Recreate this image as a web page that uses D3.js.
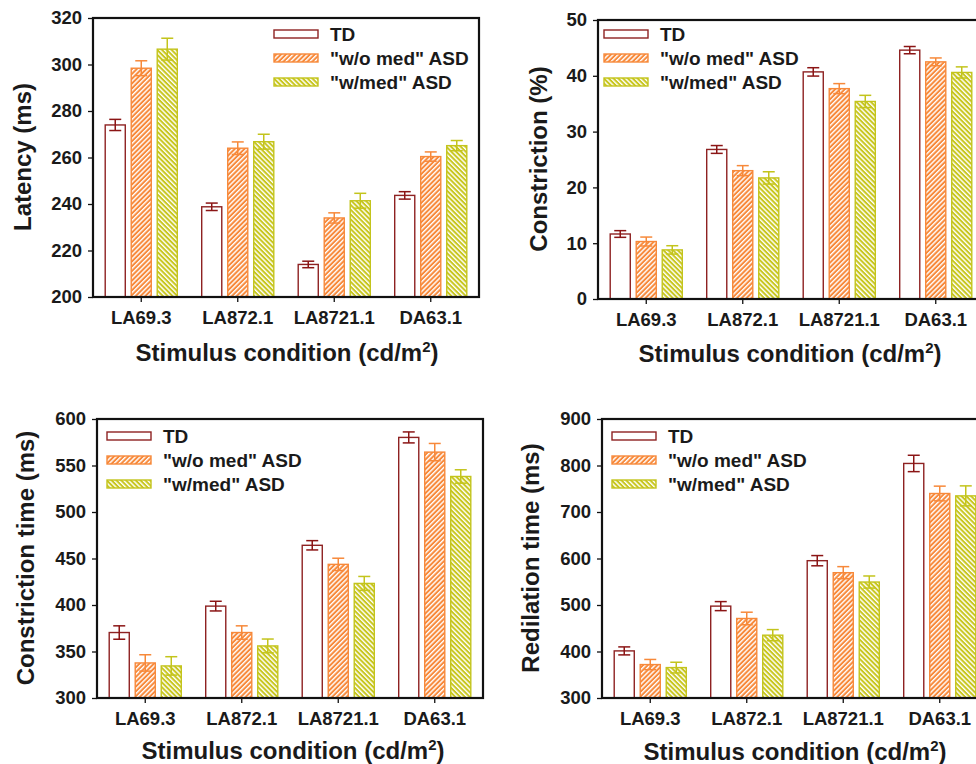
<!DOCTYPE html>
<html>
<head>
<meta charset="utf-8">
<script src="https://cdn.jsdelivr.net/npm/d3@7"></script>
<style>
  html, body { margin: 0; padding: 0; background: #fff; }
  svg { display: block; }
  text { font-family: "Liberation Sans", Arial, Helvetica, sans-serif; font-weight: bold; fill: #1a1a1a; }
</style>
</head>
<body>
<svg id="chart" width="976" height="764"></svg>
<script>
// ---------- DATA ----------
const categories = ["LA69.3", "LA872.1", "LA8721.1", "DA63.1"];
const seriesNames = ["TD", "\"w/o med\" ASD", "\"w/med\" ASD"];

// Panel A: Latency (ms)
const latencyTD   = [274.0, 238.8, 214.0, 243.7];
const latencyWoMed = [298.4, 264.0, 234.0, 260.4];
const latencyWMed  = [306.6, 266.8, 241.4, 265.1];
const latencyErrTD    = [2.4, 1.6, 1.4, 1.6];
const latencyErrWoMed = [3.2, 2.7, 2.2, 2.0];
const latencyErrWMed  = [4.7, 3.2, 3.2, 2.2];
const latencyTicks = [200, 220, 240, 260, 280, 300, 320];

// Panel B: Constriction (%)
const constrTD    = [11.65, 26.8, 40.7, 44.6];
const constrWoMed = [10.3, 23.0, 37.7, 42.5];
const constrWMed  = [8.8, 21.7, 35.4, 40.6];
const constrErrTD    = [0.6, 0.7, 0.75, 0.65];
const constrErrWoMed = [0.8, 0.9, 0.9, 0.7];
const constrErrWMed  = [0.75, 1.1, 1.1, 1.0];
const constrTicks = [0, 10, 20, 30, 40, 50];

// Panel C: Constriction time (ms)
const ctimeTD    = [370.4, 398.8, 464.2, 580.2];
const ctimeWoMed = [337.7, 370.4, 443.7, 564.4];
const ctimeWMed  = [334.5, 356.0, 423.2, 538.2];
const ctimeErrTD    = [7.2, 5.2, 5.0, 5.9];
const ctimeErrWoMed = [8.8, 7.2, 6.6, 9.3];
const ctimeErrWMed  = [9.9, 7.4, 7.5, 7.2];
const ctimeTicks = [300, 350, 400, 450, 500, 550, 600];

// Panel D: Redilation time (ms)
const rtimeTD    = [401.3, 497.6, 595.3, 804.4];
const rtimeWoMed = [371.9, 471.0, 569.5, 739.8];
const rtimeWMed  = [365.4, 435.1, 549.4, 734.7];
const rtimeErrTD    = [8.6, 9.7, 11.0, 17.6];
const rtimeErrWoMed = [11.0, 13.5, 13.0, 15.8];
const rtimeErrWMed  = [11.5, 12.0, 13.0, 21.5];
const rtimeTicks = [300, 400, 500, 600, 700, 800, 900];

const xTitle = "Stimulus condition (cd/m";

// ---------- STYLE ----------
const strokeColors = ["#8e2222", "#f7893a", "#c3c41c"];
const fillColors = ["#ffffff", "url(#hatchOrange)", "url(#hatchYellow)"];
const errColors = ["#8b1515", "#f7893a", "#c3c41c"];

const svg = d3.select("#chart");
const defs = svg.append("defs");
function hatch(id, color, angle) {
  const p = defs.append("pattern").attr("id", id)
    .attr("patternUnits", "userSpaceOnUse")
    .attr("width", 3.4).attr("height", 3.4)
    .attr("patternTransform", `rotate(${angle})`);
  p.append("rect").attr("width", 3.4).attr("height", 3.4).attr("fill", color);
  p.append("rect").attr("x", 0).attr("y", 0).attr("width", 1.4).attr("height", 3.4).attr("fill", "#ffffff");
}
hatch("hatchOrange", "#f7893a", 45);
hatch("hatchYellow", "#c8c61e", -45);

const panels = [
  { left: 93, top: 18, w: 386, h: 279, domain: [200, 320], ticks: latencyTicks,
    vals: [latencyTD, latencyWoMed, latencyWMed], errs: [latencyErrTD, latencyErrWoMed, latencyErrWMed],
    yTitle: "Latency (ms)", yTitleX: 25, yTitleY: 157, xTitleX: 287, xTitleY: 361,
    legX: 274, legY: 34 },
  { left: 598, top: 20, w: 386, h: 279, domain: [0, 50], ticks: constrTicks,
    vals: [constrTD, constrWoMed, constrWMed], errs: [constrErrTD, constrErrWoMed, constrErrWMed],
    yTitle: "Constriction (%)", yTitleX: 541, yTitleY: 159, xTitleX: 790, xTitleY: 362,
    legX: 604, legY: 34 },
  { left: 97, top: 419, w: 386, h: 279, domain: [300, 600], ticks: ctimeTicks,
    vals: [ctimeTD, ctimeWoMed, ctimeWMed], errs: [ctimeErrTD, ctimeErrWoMed, ctimeErrWMed],
    yTitle: "Constriction time (ms)", yTitleX: 28, yTitleY: 558, xTitleX: 293, xTitleY: 759,
    legX: 107, legY: 436 },
  { left: 602, top: 419, w: 386, h: 279, domain: [300, 900], ticks: rtimeTicks,
    vals: [rtimeTD, rtimeWoMed, rtimeWMed], errs: [rtimeErrTD, rtimeErrWoMed, rtimeErrWMed],
    yTitle: "Redilation time (ms)", yTitleX: 533, yTitleY: 558, xTitleX: 795, xTitleY: 760,
    legX: 612, legY: 436 }
];

panels.forEach(p => {
  const g = svg.append("g").attr("transform", `translate(${p.left},${p.top})`);
  const x0 = d3.scaleBand().domain(categories).range([0, p.w]).paddingInner(0).paddingOuter(0);
  const x1 = d3.scaleBand().domain(d3.range(3)).range([0, x0.bandwidth()]).paddingInner(0.19).paddingOuter(0.45);
  const y = d3.scaleLinear().domain(p.domain).range([p.h, 0]);

  // bars
  for (let s = 0; s < 3; s++) {
    g.append("g").selectAll("rect").data(categories).join("rect")
      .attr("x", (c) => x0(c) + x1(s) + 0.5)
      .attr("y", (c, i) => y(p.vals[s][i]))
      .attr("width", x1.bandwidth() - 1)
      .attr("height", (c, i) => p.h - y(p.vals[s][i]))
      .attr("fill", fillColors[s])
      .attr("stroke", strokeColors[s])
      .attr("stroke-width", 1.4);
  }
  // error bars
  for (let s = 0; s < 3; s++) {
    const eg = g.append("g").attr("stroke", errColors[s]).attr("stroke-width", 1.5).attr("fill", "none");
    categories.forEach((c, i) => {
      const cx = x0(c) + x1(s) + x1.bandwidth() / 2;
      const v = p.vals[s][i], e = p.errs[s][i];
      eg.append("line").attr("x1", cx).attr("x2", cx).attr("y1", y(v - e)).attr("y2", y(v + e));
      eg.append("line").attr("x1", cx - 6).attr("x2", cx + 6).attr("y1", y(v + e)).attr("y2", y(v + e));
      eg.append("line").attr("x1", cx - 6).attr("x2", cx + 6).attr("y1", y(v - e)).attr("y2", y(v - e));
    });
  }

  // axes
  const yAxis = g.append("g").call(d3.axisLeft(y).tickValues(p.ticks).tickSize(5).tickSizeOuter(0).tickPadding(6).tickFormat(d3.format("d")));
  yAxis.select(".domain").remove();
  yAxis.selectAll("line").attr("stroke", "#111").attr("stroke-width", 1.3);
  yAxis.selectAll("text").attr("font-size", 18.5).attr("font-family", "Liberation Sans, Arial, sans-serif").attr("font-weight", "bold").attr("fill", "#1a1a1a");

  const xAxis = g.append("g").attr("transform", `translate(0,${p.h})`)
    .call(d3.axisBottom(x0).tickSize(5).tickSizeOuter(0).tickPadding(9));
  xAxis.select(".domain").remove();
  xAxis.selectAll("line").attr("stroke", "#111").attr("stroke-width", 1.3);
  xAxis.selectAll("text").attr("font-size", 18.5).attr("font-family", "Liberation Sans, Arial, sans-serif").attr("font-weight", "bold").attr("fill", "#1a1a1a");

  // frame
  g.append("rect").attr("x", 0).attr("y", 0).attr("width", p.w).attr("height", p.h)
    .attr("fill", "none").attr("stroke", "#111").attr("stroke-width", 2.2);

  // titles
  svg.append("text").attr("transform", `translate(${p.yTitleX},${p.yTitleY}) rotate(-90)`)
    .attr("text-anchor", "middle").attr("dominant-baseline", "middle")
    .attr("font-size", 24).text(p.yTitle);
  const xt = svg.append("text").attr("x", p.xTitleX).attr("y", p.xTitleY)
    .attr("text-anchor", "middle").attr("font-size", 24);
  xt.append("tspan").text(xTitle);
  xt.append("tspan").attr("dy", -9).attr("font-size", 15).text("2");
  xt.append("tspan").attr("dy", 9).text(")");

  // legend
  const lg = svg.append("g").attr("transform", `translate(${p.legX},${p.legY})`);
  seriesNames.forEach((name, s) => {
    const row = lg.append("g").attr("transform", `translate(0,${s * 24})`);
    row.append("rect").attr("x", 0).attr("y", -4).attr("width", 44).attr("height", 8)
      .attr("fill", fillColors[s]).attr("stroke", strokeColors[s]).attr("stroke-width", 1.4);
    row.append("text").attr("x", 56).attr("y", 0).attr("dominant-baseline", "central")
      .attr("font-size", 19).text(name);
  });
});
</script>
</body>
</html>
